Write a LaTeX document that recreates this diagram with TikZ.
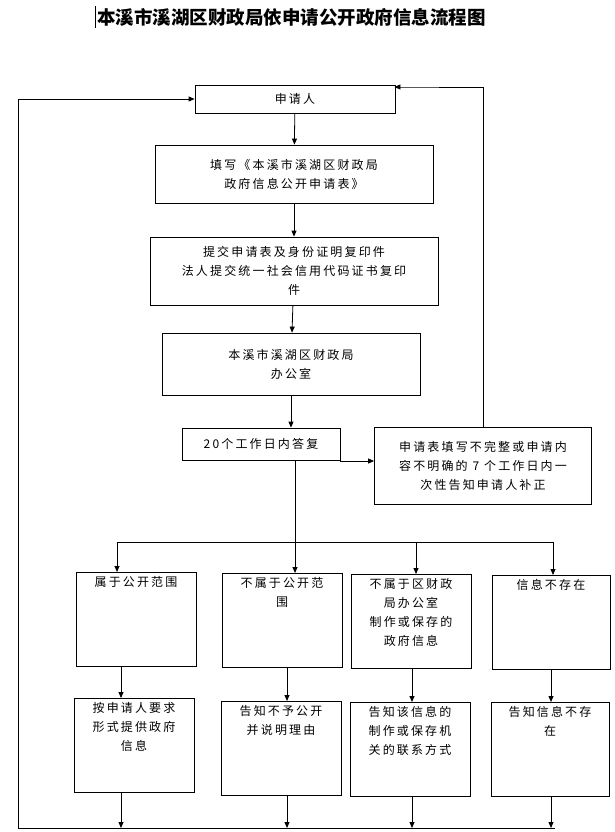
\documentclass[tikz,border=0pt]{standalone}
\usepackage{fontspec}
\setmainfont[LetterSpace=18]{Noto Sans CJK SC}
\newfontfamily\titlefont[LetterSpace=0]{Noto Sans CJK SC}
\usetikzlibrary{arrows.meta}
\newcommand{\tbx}[2][112pt]{\parbox[t][86pt][t]{#1}{\centering #2}}
\begin{document}
\begin{tikzpicture}[x=1pt,y=-1pt,
 box/.style={draw,line width=0.8pt,align=center,font=\fontsize{12}{19}\selectfont,inner sep=2pt},
 ar/.style={-{Triangle[length=6pt,width=5pt]},line width=0.8pt},
 ln/.style={line width=0.8pt}]
\useasboundingbox (0,0) rectangle (615,832);
\node[font=\titlefont\fontsize{18.5}{20}\selectfont\bfseries,anchor=west,inner sep=0pt] (title) at (97,17) {本溪市溪湖区财政局依申请公开政府信息流程图};
\draw[line width=1pt] (95,6) -- (95,28);
\node[box,minimum width=200,minimum height=28] (a) at (295,99) {申请人};
\node[box,minimum width=278,minimum height=58] (b) at (294,174) {填写《本溪市溪湖区财政局\\政府信息公开申请表》};
\node[box,minimum width=288,minimum height=68] (c) at (294,271) {提交申请表及身份证明复印件\\法人提交统一社会信用代码证书复印\\件};
\node[box,minimum width=258,minimum height=62] (d) at (291,364) {本溪市溪湖区财政局\\办公室};
\node[box,minimum width=158,minimum height=32] (e) at (261,444) {20个工作日内答复};
\node[box,minimum width=217,minimum height=77] (f) at (483,466) {申请表填写不完整或申请内\\容不明确的 7 个工作日内一\\次性告知申请人补正};
\tikzset{rb/.style={box,anchor=north,inner sep=4pt}}
\node[rb] (r1) at (136,572) {\tbx{属于公开范围}};
\node[rb] (r2) at (282,573) {\tbx{不属于公开范\\围}};
\node[rb] (r3) at (411,574) {\tbx{不属于区财政\\局办公室\\制作或保存的\\政府信息}};
\node[rb] (r4) at (551,575) {\tbx[110pt]{信息不存在}};
\node[rb] (s1) at (134,698) {\tbx{按申请人要求\\形式提供政府\\信息}};
\node[rb] (s2) at (281,701) {\tbx{告知不予公开\\并说明理由}};
\node[rb] (s3) at (410,702) {\tbx{告知该信息的\\制作或保存机\\关的联系方式}};
\node[rb] (s4) at (550,702) {\tbx[110pt]{告知信息不存\\在}};
\coordinate (br) at (295,542);
\coordinate (bl) at (18,828);
\draw[ar] (a) -- (b);
\draw[ar] (b) -- (c);
\draw[ar] (c) -- (d);
\draw[ar] (d.south -| 291,0) -- (e.north -| 291,0);
\draw[ar] (e.east |- 0,461) -- (f.west |- 0,461);
\draw[ar] (f.north) |- (a.east |- 0,87) -- ++(-1,0);
\draw[ln] (e.south -| br) -- (br);
\draw[ln] (117,542) -- (553,542);
\foreach \x/\n in {117/r1,295/r2,416/r3,553/r4}{\draw[ar] (\x,542) -- (\x,0 |- \n.north);}
\draw[ar] (r1.south -| 121,0) -- (s1.north -| 121,0);
\draw[ar] (r2.south -| 287,0) -- (s2.north -| 287,0);
\draw[ar] (r3.south -| 412,0) -- (s3.north -| 412,0);
\draw[ar] (r4.south -| 551,0) -- (s4.north -| 551,0);
\foreach \x/\n in {121/s1,287/s2,412/s3,551/s4}{\draw[ar] (\n.south -| \x,0) -- (\x,828);}
\draw[ln] (555,828) -- (bl) -- (18,99);
\draw[ar] (18,99) -- (a.west);
\end{tikzpicture}
\end{document}
